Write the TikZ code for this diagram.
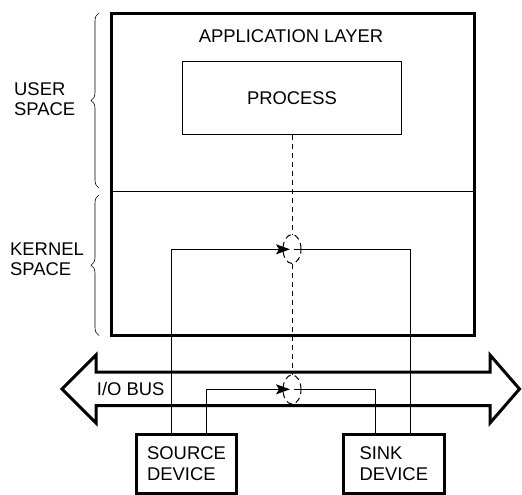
\documentclass[tikz,border=0pt]{standalone}
\usepackage{fontspec}
\setmainfont{Liberation Sans}
\usetikzlibrary{positioning,shapes.geometric,decorations.pathreplacing,arrows.meta}
\tikzset{
	io diagram/.style={
		x=1pt,y=-1pt,
		font=\fontsize{18.4}{20}\selectfont,
		every node/.style={inner sep=0pt}
	},
	layer box/.style={
		rectangle,
		draw,
		line width=3pt
	},
	process box/.style={
		rectangle,
		draw,
		line width=1pt,
		minimum width=219pt,
		minimum height=72.5pt
	},
	device/.style={
		rectangle,
		draw,
		line width=3pt,
		align=left,
		font=\fontsize{18.4}{21}\selectfont,
		minimum width=100pt,
		minimum height=59pt
	},
	space label/.style={
		align=left,
		anchor=west
	},
	crossing/.style={
		ellipse,
		draw,
		line width=1pt,
		dash pattern=on 6pt off 4pt,
		minimum width=18pt,
		minimum height=29pt
	},
	dashed link/.style={
		line width=1pt,
		dash pattern=on 5pt off 4pt
	},
	space brace/.style={
		decorate,
		decoration={brace,amplitude=8pt},
		line width=0.6pt
	},
	bus/.style={
		line width=3pt,
		line join=miter
	},
	wire/.style={line width=1pt},
	transfer/.style={
		wire,
		-{Stealth[length=14pt,width=10pt,inset=3pt]}
	}
}

\begin{document}
\begin{tikzpicture}[io diagram]
	\useasboundingbox (0,0) rectangle (522,495);
	% user and kernel space
	\node[layer box, minimum width=363pt, minimum height=321.5pt] (layer) at (293,174.3) {};
	\node[anchor=base] (app label) at (291,42.7) {APPLICATION LAYER};
	\node[process box] (process) at (292,98) {PROCESS};
	\coordinate (split) at (0,191.3);
	\draw[wire] (layer.west |- split) -- (layer.east |- split);
	\draw[space brace] (99,188) -- (99,13);
	\draw[space brace] (99,335.5) -- (99,195);
	\node[space label] (user) at (14,99.5) {USER\\SPACE};
	\node[space label] (kernel) at (10,259) {KERNEL\\SPACE};
	% I/O bus
	\draw[bus] (62,389) -- (96,355) -- (96,372) -- (490,372) -- (490,355) -- (519.5,389)
		-- (490,423) -- (490,405.5) -- (96,405.5) -- (96,423) -- cycle;
	\node[anchor=base west] (bus label) at (96.7,395) {I/O BUS};
	% devices
	\node[device] (source) at (186.5,463.5) {SOURCE\\DEVICE};
	\node[device, minimum width=101.5pt] (sink) at (393.8,463.5) {SINK\\DEVICE};
	% crossings
	\node[crossing] (kernel cross) at (292,249) {};
	\node[crossing] (bus cross) at (292,389.5) {};
	\draw[dashed link] (process.south) -- (kernel cross.north);
	\draw[dashed link] (kernel cross.south) -- (bus cross.north);
	\coordinate (kernel in) at (290,249.3);
	\coordinate (kernel out) at (294,249.3);
	\coordinate (bus in) at (290,389.3);
	\coordinate (bus out) at (294,389.3);
	% transfers
	\draw[transfer] ([xshift=36pt]source.north west) |- (kernel in);
	\draw[wire] (kernel out) -| ([xshift=68.7pt]sink.north west);
	\draw[transfer] ([xshift=71.5pt]source.north west) |- (bus in);
	\draw[wire] (bus out) -| ([xshift=34.3pt]sink.north west);
\end{tikzpicture}
\end{document}
